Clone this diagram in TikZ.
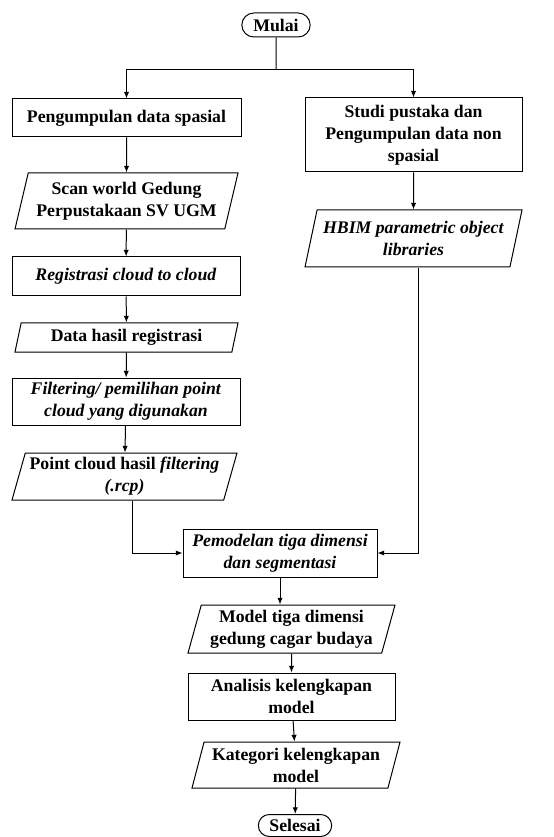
\documentclass[tikz,border=0pt]{standalone}
\usepackage{fontspec}
\setmainfont{Liberation Serif}
\usetikzlibrary{arrows.meta, positioning, shapes.geometric, shapes.misc}
\tikzset{every node/.style={font=\bfseries\fontsize{13.3}{16.5}\selectfont}}

\begin{document}
\begin{tikzpicture}[x=0.75pt, y=-0.75pt, line width=0.75pt, >={Latex[length=5pt, width=4pt]},
    procbox/.style={draw, rectangle, align=center, inner sep=1pt},
    iobox/.style={draw, trapezium, trapezium left angle=72, trapezium right angle=108, trapezium stretches body, align=center, inner sep=1pt},
    termbox/.style={draw, rounded rectangle, inner sep=1pt}]
        \useasboundingbox (0,0) rectangle (553,837);
        \node[termbox, minimum width=53.25pt, minimum height=18pt] (mulai) at (276,25) {Mulai};
        \node[procbox, minimum width=171.75pt, minimum height=28.5pt] (spasial) at (126.5,118) {Pengumpulan data spasial};
        \node[procbox, minimum width=162.75pt, minimum height=55.5pt] (studi) at (413.5,135) {Studi pustaka dan\\Pengumpulan data non\\spasial};
        \node[iobox, minimum width=167.25pt, minimum height=42pt] (scan) at (126.5,201) {Scan world Gedung\\Perpustakaan SV UGM};
        \node[iobox, minimum width=162.75pt, minimum height=42.75pt] (hbim) at (413.5,238.5) {\textit{HBIM parametric object}\\\textit{libraries}};
        \node[procbox, minimum width=171pt, minimum height=29.25pt] (regis) at (126,276.5) {\textit{Registrasi cloud to cloud}};
        \node[iobox, minimum width=167.25pt, minimum height=21.75pt] (hasil) at (126.5,337.5) {Data hasil registrasi};
        \node[procbox, minimum width=171pt, minimum height=35.25pt] (filter) at (126,401.5) {\textit{Filtering/ pemilihan point}\\\textit{cloud yang digunakan}};
        \node[iobox, minimum width=168.75pt, minimum height=35.25pt] (rcp) at (124.5,476.5) {Point cloud hasil \textit{filtering}\\\textit{(.rcp)}};
        \node[procbox, minimum width=145.5pt, minimum height=36pt] (model3d) at (280,553) {\textit{Pemodelan tiga dimensi}\\\textit{dan segmentasi}};
        \node[iobox, minimum width=155.25pt, minimum height=36pt] (gedung) at (291.5,629) {Model tiga dimensi\\gedung cagar budaya};
        \node[procbox, minimum width=155.25pt, minimum height=35.25pt] (analisis) at (291.5,696.5) {Analisis kelengkapan\\model};
        \node[iobox, minimum width=156pt, minimum height=34.5pt] (kategori) at (296,765) {Kategori kelengkapan\\model};
        \node[termbox, minimum width=57pt, minimum height=16.5pt] (selesai) at (295,825.5) {Selesai};
        \coordinate (split) at (276,70);
        \draw (mulai) -- (split);
        \draw[->] (split) -| (spasial);
        \draw[->] (split) -| (studi);
        \draw[->] (spasial) -- (scan);
        \draw[->] (scan) -- (regis);
        \draw[->] (regis) -- (hasil);
        \draw[->] (hasil) -- (filter);
        \draw[->] (filter) -- (rcp);
        \draw[->] ([xshift=6pt]rcp.south) |- (model3d.west);
        \draw[->] (studi) -- (hbim);
        \draw[->] ([xshift=4pt]hbim.south) |- (model3d.east);
        \draw[->] (model3d.south) -- (model3d.south |- gedung.north);
        \draw[->] (gedung) -- (analisis);
        \draw[->] (analisis) -- (kategori);
        \draw[->] (kategori) -- (selesai);
      \end{tikzpicture}
\end{document}
